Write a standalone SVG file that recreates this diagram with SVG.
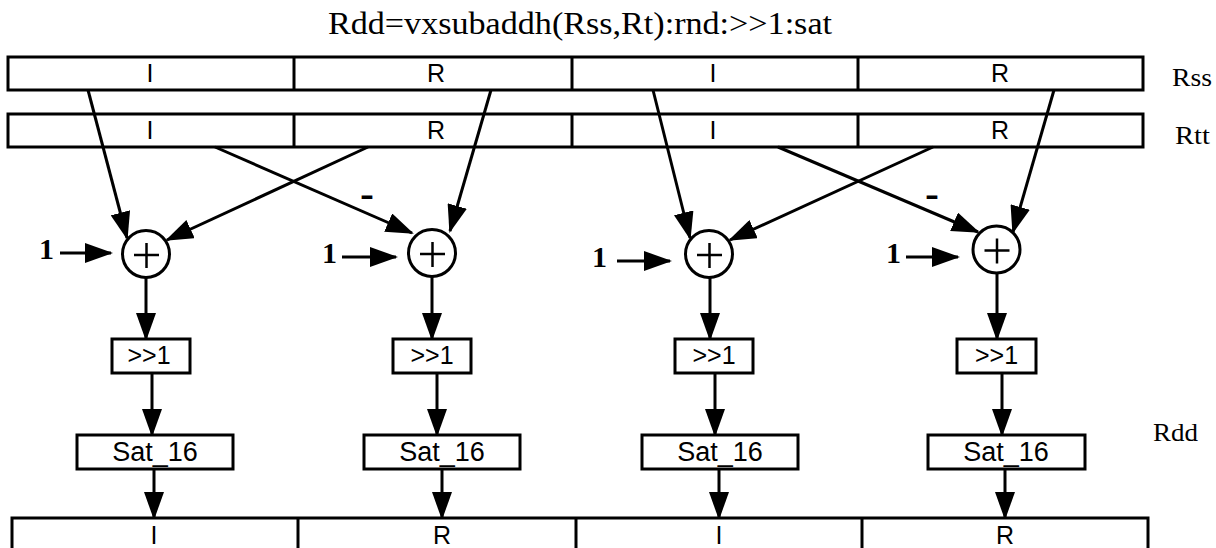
<svg xmlns="http://www.w3.org/2000/svg" width="1216" height="548" viewBox="0 0 1216 548">
<style>
.box{fill:#fff;stroke:#000;stroke-width:3}
.ln{fill:none;stroke:#000;stroke-width:3}
.cr{fill:#fff;stroke:#000;stroke-width:3}
.pl{stroke:#000;stroke-width:2.5}
.sf{font-family:"Liberation Serif","Times New Roman",serif;fill:#000}
.ss{font-family:"Liberation Sans",Arial,sans-serif;fill:#000;text-anchor:middle}
.reg{font-size:25px}
.op{font-size:25px}
.sat{font-size:27px}
.one{font-family:"Liberation Serif","Times New Roman",serif;font-weight:bold;font-size:30px}
.mn{font-family:"Liberation Sans",Arial,sans-serif;font-weight:bold;font-size:30px}
</style>
<defs>
<marker id="ah" markerUnits="userSpaceOnUse" markerWidth="28" markerHeight="20" refX="26" refY="10" orient="auto" viewBox="0 0 28 20">
<path d="M0,0 L28,10 L0,20 z" fill="#000"/>
</marker>
</defs>
<rect width="1216" height="548" fill="#fff"/>
<text class="sf" x="328" y="34" font-size="32" textLength="504" lengthAdjust="spacingAndGlyphs">Rdd=vxsubaddh(Rss,Rt):rnd:&gt;&gt;1:sat</text>

<g id="Rss">
<rect class="box" x="8" y="57" width="1135" height="33"/>
<line class="ln" x1="294" y1="57" x2="294" y2="90"/>
<line class="ln" x1="572" y1="57" x2="572" y2="90"/>
<line class="ln" x1="858" y1="57" x2="858" y2="90"/>
<text class="ss reg" x="150" y="82">I</text>
<text class="ss reg" x="436" y="82">R</text>
<text class="ss reg" x="713" y="82">I</text>
<text class="ss reg" x="1000" y="82">R</text>
<text class="sf" x="1172" y="86" font-size="25" textLength="40" lengthAdjust="spacingAndGlyphs">Rss</text>
</g>

<g id="Rtt">
<rect class="box" x="8" y="114" width="1135" height="33"/>
<line class="ln" x1="294" y1="114" x2="294" y2="147"/>
<line class="ln" x1="572" y1="114" x2="572" y2="147"/>
<line class="ln" x1="858" y1="114" x2="858" y2="147"/>
<text class="ss reg" x="150" y="139">I</text>
<text class="ss reg" x="436" y="139">R</text>
<text class="ss reg" x="713" y="139">I</text>
<text class="ss reg" x="1000" y="139">R</text>
<text class="sf" x="1175" y="144" font-size="25" textLength="35" lengthAdjust="spacingAndGlyphs">Rtt</text>
</g>

<g id="connectors">
<line class="ln" x1="88" y1="90" x2="127" y2="238" marker-end="url(#ah)"/>
<line class="ln" x1="368" y1="147" x2="167" y2="240" marker-end="url(#ah)"/>
<line class="ln" x1="215" y1="147" x2="412" y2="233" marker-end="url(#ah)"/>
<line class="ln" x1="491" y1="90" x2="450" y2="231" marker-end="url(#ah)"/>
<line class="ln" x1="653" y1="90" x2="690" y2="238" marker-end="url(#ah)"/>
<line class="ln" x1="933" y1="147" x2="730" y2="240" marker-end="url(#ah)"/>
<line class="ln" x1="778" y1="147" x2="978" y2="232" marker-end="url(#ah)"/>
<line class="ln" x1="1054" y1="90" x2="1013" y2="232" marker-end="url(#ah)"/>

<line class="ln" x1="60" y1="253" x2="111" y2="253" marker-end="url(#ah)"/>
<line class="ln" x1="342" y1="257" x2="396" y2="257" marker-end="url(#ah)"/>
<line class="ln" x1="617" y1="261" x2="670" y2="261" marker-end="url(#ah)"/>
<line class="ln" x1="906" y1="257" x2="958" y2="257" marker-end="url(#ah)"/>

<line class="ln" x1="146" y1="278" x2="146" y2="339" marker-end="url(#ah)"/>
<line class="ln" x1="432" y1="277" x2="432" y2="339" marker-end="url(#ah)"/>
<line class="ln" x1="710" y1="278" x2="710" y2="339" marker-end="url(#ah)"/>
<line class="ln" x1="997" y1="273" x2="997" y2="339" marker-end="url(#ah)"/>

<line class="ln" x1="152" y1="373" x2="152" y2="435" marker-end="url(#ah)"/>
<line class="ln" x1="437" y1="373" x2="437" y2="435" marker-end="url(#ah)"/>
<line class="ln" x1="715" y1="373" x2="715" y2="435" marker-end="url(#ah)"/>
<line class="ln" x1="1002" y1="373" x2="1002" y2="435" marker-end="url(#ah)"/>

<line class="ln" x1="154" y1="469" x2="154" y2="518" marker-end="url(#ah)"/>
<line class="ln" x1="442" y1="469" x2="442" y2="518" marker-end="url(#ah)"/>
<line class="ln" x1="719" y1="469" x2="719" y2="518" marker-end="url(#ah)"/>
<line class="ln" x1="1005" y1="469" x2="1005" y2="518" marker-end="url(#ah)"/>
</g>

<g id="minus1"><text class="mn" x="360" y="205" textLength="14" lengthAdjust="spacingAndGlyphs">-</text></g>
<g id="minus2"><text class="mn" x="925" y="205" textLength="14" lengthAdjust="spacingAndGlyphs">-</text></g>

<g id="one1"><text class="one" x="39" y="259">1</text></g>
<g id="one2"><text class="one" x="322" y="263">1</text></g>
<g id="one3"><text class="one" x="592" y="267">1</text></g>
<g id="one4"><text class="one" x="886" y="263">1</text></g>

<g id="add1"><circle class="cr" cx="146" cy="254" r="23.5"/><line class="pl" x1="134" y1="255" x2="159" y2="255"/><line class="pl" x1="146.5" y1="243" x2="146.5" y2="268"/></g>
<g id="add2"><circle class="cr" cx="432" cy="253" r="23.5"/><line class="pl" x1="420" y1="254" x2="445" y2="254"/><line class="pl" x1="432.5" y1="242" x2="432.5" y2="267"/></g>
<g id="add3"><circle class="cr" cx="709" cy="254" r="23.5"/><line class="pl" x1="697" y1="255" x2="722" y2="255"/><line class="pl" x1="709.5" y1="243" x2="709.5" y2="268"/></g>
<g id="add4"><circle class="cr" cx="996.5" cy="249.5" r="23.5"/><line class="pl" x1="984.5" y1="250.5" x2="1009.5" y2="250.5"/><line class="pl" x1="997" y1="238.5" x2="997" y2="263.5"/></g>

<g id="shr1"><rect class="box" x="112" y="339" width="78" height="34"/><text class="ss op" x="149" y="364">&gt;&gt;1</text></g>
<g id="shr2"><rect class="box" x="393" y="339" width="78" height="34"/><text class="ss op" x="432" y="364">&gt;&gt;1</text></g>
<g id="shr3"><rect class="box" x="675" y="339" width="78" height="34"/><text class="ss op" x="714" y="364">&gt;&gt;1</text></g>
<g id="shr4"><rect class="box" x="957" y="339" width="79" height="34"/><text class="ss op" x="996.5" y="364">&gt;&gt;1</text></g>

<g id="sat1"><rect class="box" x="77" y="435" width="156" height="34"/><text class="ss sat" x="155" y="461">Sat_16</text></g>
<g id="sat2"><rect class="box" x="364" y="435" width="156" height="34"/><text class="ss sat" x="442" y="461">Sat_16</text></g>
<g id="sat3"><rect class="box" x="642" y="435" width="156" height="34"/><text class="ss sat" x="720" y="461">Sat_16</text></g>
<g id="sat4"><rect class="box" x="928" y="435" width="157" height="34"/><text class="ss sat" x="1006" y="461">Sat_16</text></g>

<g id="Rdd">
<rect class="box" x="12" y="518" width="1136" height="40"/>
<line class="ln" x1="298" y1="518" x2="298" y2="558"/>
<line class="ln" x1="576" y1="518" x2="576" y2="558"/>
<line class="ln" x1="862" y1="518" x2="862" y2="558"/>
<text class="ss reg" x="154" y="544">I</text>
<text class="ss reg" x="442" y="544">R</text>
<text class="ss reg" x="719" y="544">I</text>
<text class="ss reg" x="1005" y="544">R</text>
<text class="sf" x="1153" y="441" font-size="25" textLength="45" lengthAdjust="spacingAndGlyphs">Rdd</text>
</g>
</svg>
